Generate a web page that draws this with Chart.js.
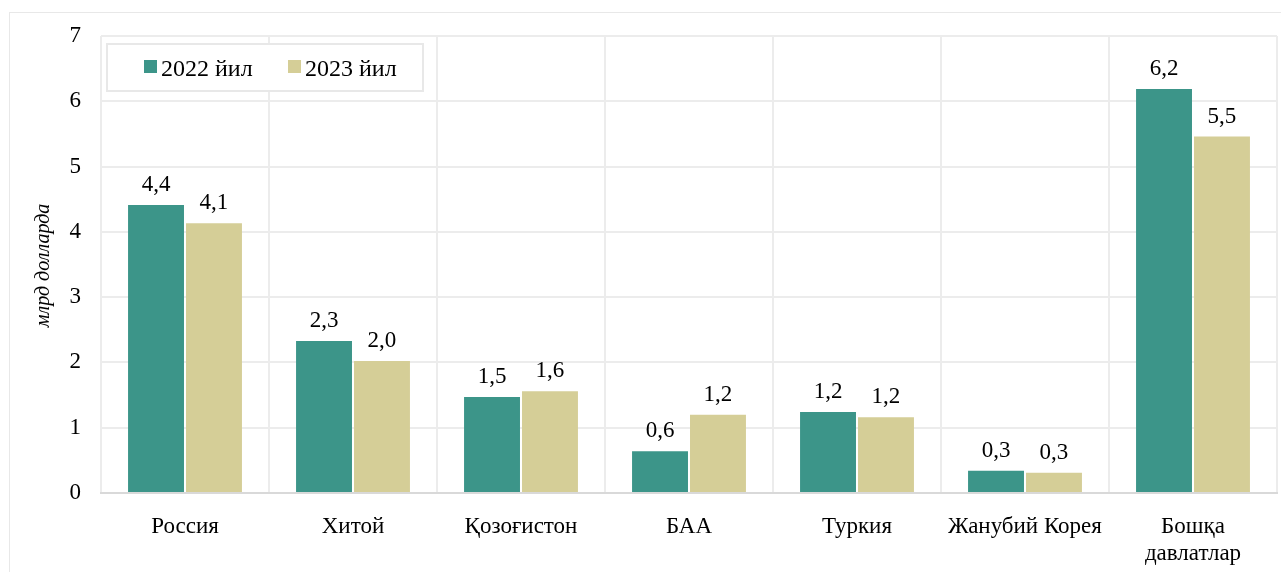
<!DOCTYPE html>
<html>
<head>
<meta charset="utf-8">
<script src="https://cdn.jsdelivr.net/npm/chart.js@4"></script>
<style>
  html, body { margin: 0; padding: 0; background: #fff; }
  #wrap { position: relative; width: 1281px; height: 572px; }
</style>
</head>
<body>
<div id="wrap"><canvas id="chart" width="1281" height="572"></canvas></div>
<script>
const categories = ['Россия', 'Хитой', 'Қозоғистон', 'БАА', 'Туркия', 'Жанубий Корея', ['Бошқа', 'давлатлар']];
const values2022 = [4.41, 2.33, 1.47, 0.64, 1.24, 0.34, 6.19];
const values2023 = [4.13, 2.02, 1.56, 1.2, 1.16, 0.31, 5.46];
const seriesNames = ['2022 йил', '2023 йил'];
const yTicks = [0, 1, 2, 3, 4, 5, 6, 7];
const yTitle = 'млрд долларда';

const teal = '#3c9589';
const khaki = '#d5ce97';
const gridColor = '#ececec';
const fontFamily = "'Liberation Serif', 'Times New Roman', serif";

Chart.defaults.font.family = fontFamily;
Chart.defaults.font.size = 23;
Chart.defaults.color = '#000';

const framePlugin = {
  id: 'frame',
  beforeDraw(chart) {
    const ctx = chart.ctx;
    ctx.save();
    ctx.fillStyle = '#fff';
    ctx.fillRect(0, 0, chart.width, chart.height);
    ctx.strokeStyle = '#e8e8e8';
    ctx.lineWidth = 1;
    ctx.strokeRect(9.5, 12.5, chart.width + 20, chart.height + 20);
    ctx.restore();
  },
};

const labelsPlugin = {
  id: 'valueLabels',
  afterDatasetsDraw(chart) {
    const ctx = chart.ctx;
    ctx.save();
    ctx.font = `23px ${fontFamily}`;
    ctx.fillStyle = '#000';
    ctx.textAlign = 'center';
    ctx.textBaseline = 'alphabetic';
    chart.data.datasets.forEach((ds, i) => {
      chart.getDatasetMeta(i).data.forEach((bar, j) => {
        const txt = ds.data[j].toFixed(1).replace('.', ',');
        ctx.fillText(txt, bar.x, bar.y - 14);
      });
    });
    ctx.restore();
  },
};

const legendPlugin = {
  id: 'boxLegend',
  afterDraw(chart) {
    const ctx = chart.ctx;
    const area = chart.chartArea;
    const x0 = area.left + 6;
    const y0 = area.top + 8;
    ctx.save();
    ctx.fillStyle = '#fff';
    ctx.fillRect(x0, y0, 316, 47);
    ctx.strokeStyle = '#e8e8e8';
    ctx.lineWidth = 2;
    ctx.strokeRect(x0, y0, 316, 47);
    ctx.font = `24px ${fontFamily}`;
    ctx.textBaseline = 'alphabetic';
    const items = [
      { x: x0 + 37, label: seriesNames[0], color: teal },
      { x: x0 + 181, label: seriesNames[1], color: khaki },
    ];
    items.forEach((it) => {
      ctx.fillStyle = it.color;
      ctx.fillRect(it.x, y0 + 16, 13, 13);
      ctx.fillStyle = '#000';
      ctx.fillText(it.label, it.x + 17, y0 + 32);
    });
    ctx.restore();
  },
};

const titlePlugin = {
  id: 'yTitle',
  afterDraw(chart) {
    const ctx = chart.ctx;
    const area = chart.chartArea;
    ctx.save();
    ctx.translate(44, (area.top + area.bottom) / 2 + 1);
    ctx.rotate(-Math.PI / 2);
    ctx.font = `italic 20px ${fontFamily}`;
    ctx.fillStyle = '#000';
    ctx.textAlign = 'center';
    ctx.textBaseline = 'middle';
    ctx.fillText(yTitle, 0, 0);
    ctx.restore();
  },
};

new Chart(document.getElementById('chart'), {
  type: 'bar',
  data: {
    labels: categories,
    datasets: [
      {
        label: seriesNames[0],
        data: values2022,
        backgroundColor: teal,
        categoryPercentage: 0.69,
        barPercentage: 0.965,
      },
      {
        label: seriesNames[1],
        data: values2023,
        backgroundColor: khaki,
        categoryPercentage: 0.69,
        barPercentage: 0.965,
      },
    ],
  },
  options: {
    responsive: false,
    animation: false,
    layout: { padding: { top: 36, right: 4, bottom: 0, left: 0 } },
    plugins: {
      legend: { display: false },
      tooltip: { enabled: false },
    },
    scales: {
      x: {
        grid: { color: gridColor, lineWidth: 2, drawTicks: false, offset: true },
        border: { color: '#d9d9d9', width: 2 },
        ticks: { padding: 20, maxRotation: 0, autoSkip: false, font: { size: 23 } },
        afterFit(scale) { scale.height = 79; },
      },
      y: {
        min: 0,
        max: 7,
        afterBuildTicks(scale) { scale.ticks = yTicks.map((v) => ({ value: v })); },
        grid: { color: gridColor, lineWidth: 2, drawTicks: false },
        border: { display: false },
        ticks: { padding: 20, font: { size: 23 } },
        afterFit(scale) { scale.width = 101; },
      },
    },
  },
  plugins: [framePlugin, labelsPlugin, legendPlugin, titlePlugin],
});
</script>
</body>
</html>
